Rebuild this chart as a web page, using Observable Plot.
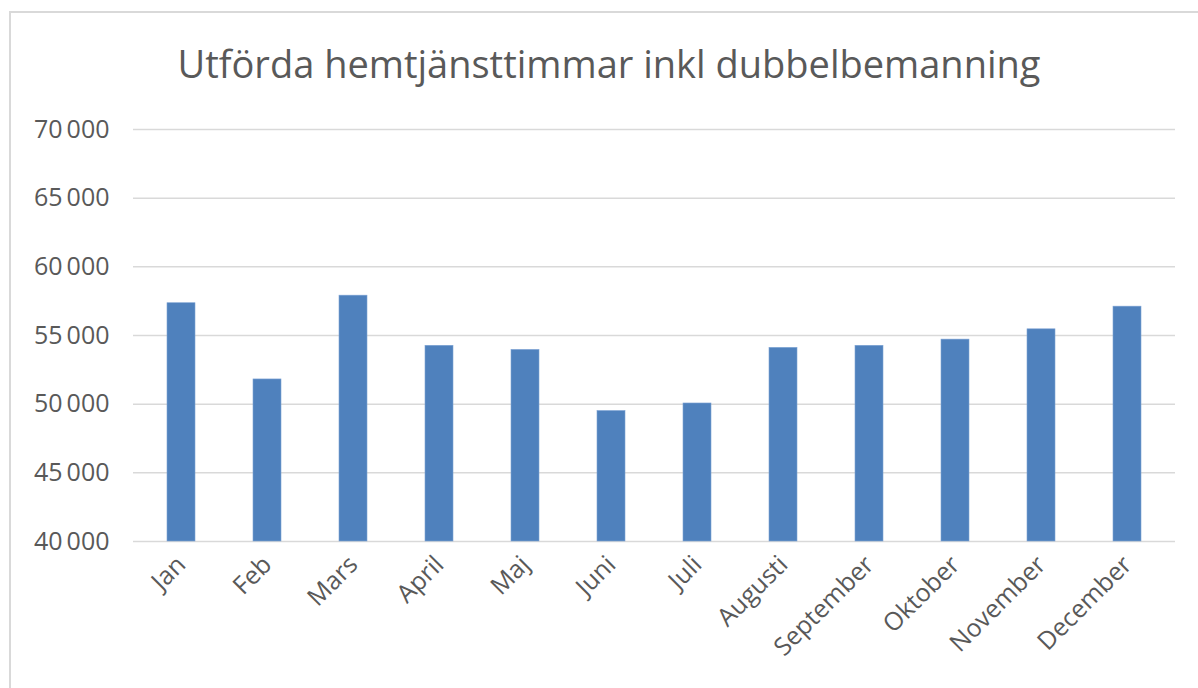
<!DOCTYPE html>
<html>
<head>
<meta charset="utf-8">
<script src="https://cdn.jsdelivr.net/npm/d3@7"></script>
<script src="https://cdn.jsdelivr.net/npm/@observablehq/plot@0.6"></script>
<style>
  html, body { margin: 0; padding: 0; width: 1198px; height: 688px; overflow: hidden; background: #fff; }
  #frame { position: absolute; left: 9px; top: 11px; width: 1300px; height: 800px; border: 2px solid #d9d9d9; box-sizing: border-box; }
  #title { position: absolute; left: 0; top: 0; width: 1218px; height: 100px; text-align: center; white-space: nowrap;
           font-family: "Open Sans", sans-serif; font-size: 38px; color: #595959; line-height: 1; padding-top: 44px; box-sizing: border-box; }
  #chart { position: absolute; left: 0; top: 100px; }
  #chart svg text { font-family: "Open Sans", sans-serif; }
</style>
</head>
<body>
<div id="frame"></div>
<div id="title">Utförda hemtjänsttimmar inkl dubbelbemanning</div>
<div id="chart"></div>
<script>
const months = ["Jan","Feb","Mars","April","Maj","Juni","Juli","Augusti","September","Oktober","November","December"];
const hours = [57350, 51800, 57900, 54250, 53950, 49500, 50050, 54100, 54250, 54700, 55450, 57100];
const yTicks = [40000, 45000, 50000, 55000, 60000, 65000, 70000];

const data = months.map((m, i) => ({month: m, value: hours[i]}));
const fmt = d3.formatLocale({thousands: "\u2009", grouping: [3], decimal: ",", currency: ["", ""]}).format(",");

const chart = Plot.plot({
  width: 1198,
  height: 588,
  marginTop: 29,
  marginBottom: 147,
  marginLeft: 133,
  marginRight: 23,
  style: {fontSize: "25px", color: "#595959", background: "transparent"},
  x: {domain: months, paddingInner: 0.68, paddingOuter: 0.34, label: null, tickRotate: -45, tickSize: 0, tickPadding: 19},
  y: {domain: [40000, 70000], ticks: yTicks, label: null, tickSize: 0, tickPadding: 24, tickFormat: fmt},
  marks: [
    Plot.ruleY(yTicks, {stroke: "#d9d9d9", strokeWidth: 1.5}),
    Plot.barY(data, {x: "month", y1: 40000, y2: "value", fill: "#4f81bd", stroke: "#7ea3d4", strokeWidth: 0.6})
  ]
});
document.getElementById("chart").appendChild(chart);
</script>
</body>
</html>
